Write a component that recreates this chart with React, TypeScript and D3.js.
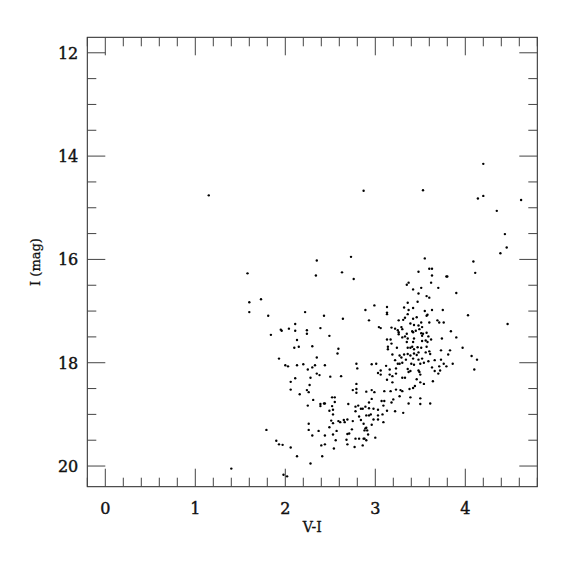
import React, { useRef, useEffect } from "react";
import * as d3 from "d3";

// [V-I, I] pairs, grouped by region of the diagram
const isolatedStars = [
  [1.15, 14.76], [2.87, 14.67], [3.53, 14.66], [1.4, 20.05], [1.98, 20.17], [2.02, 20.2],
];

const brightRedStars = [
  [4.2, 14.15], [4.2, 14.77], [4.14, 14.82], [4.62, 14.85], [4.35, 15.06], [4.44, 15.51],
  [4.46, 15.77], [4.39, 15.88], [4.09, 16.04], [4.11, 16.26], [3.8, 16.33], [3.9, 16.65],
  [3.75, 16.98], [4.03, 17.08], [4.47, 17.25], [3.76, 17.22], [3.84, 17.39], [3.9, 17.51],
  [3.74, 17.53], [3.73, 17.76], [3.83, 17.76], [3.97, 17.71], [3.81, 17.84], [4.07, 17.87],
  [4.13, 17.94], [3.76, 18.02], [3.86, 18.02], [3.79, 18.07], [4.1, 18.13],
];

const blueStars = [
  [1.58, 16.27], [1.73, 16.77], [1.6, 16.83], [1.6, 17.02], [1.81, 17.09], [1.84, 17.46],
  [1.93, 17.92], [1.79, 19.3], [1.9, 19.51], [1.93, 19.58],
];

const upperMiddle = [
  [2.35, 16.02], [2.73, 15.95], [2.34, 16.31], [2.63, 16.25], [2.76, 16.38], [2.22, 17.02],
  [2.43, 17.09], [2.89, 16.98], [2.64, 17.15], [2.93, 17.18], [2.11, 17.25], [2.04, 17.34],
  [1.95, 17.36], [1.96, 17.38], [2.11, 17.38], [2.24, 17.37], [2.24, 17.44], [2.39, 17.33],
  [2.49, 17.48], [2.13, 17.56], [2.1, 17.71], [2.15, 17.69], [2.3, 17.68], [2.59, 17.73],
  [2.58, 17.82], [2.35, 17.9],
];

const lowerMiddle = [
  [2.0, 18.05], [2.03, 18.07], [2.13, 18.05], [2.2, 18.03], [2.25, 18.13], [2.3, 18.09],
  [2.33, 18.05], [2.44, 18.05], [2.79, 18.02], [2.8, 18.11], [2.11, 18.3], [2.06, 18.37],
  [2.28, 18.29], [2.35, 18.21], [2.38, 18.24], [2.5, 18.27], [2.62, 18.26], [2.27, 18.43],
  [2.06, 18.52], [2.24, 18.53], [2.26, 18.57], [2.16, 18.61], [2.79, 18.41], [2.75, 18.53],
  [2.79, 18.51], [2.79, 18.58], [2.9, 18.56], [2.31, 18.72], [2.52, 18.67], [2.55, 18.67],
  [2.25, 18.83], [2.39, 18.8], [2.43, 18.79], [2.44, 18.79], [2.39, 18.84], [2.55, 18.76],
  [2.7, 18.8], [2.52, 18.84], [2.78, 18.85], [2.81, 18.83], [2.84, 18.89], [2.86, 18.89],
  [2.89, 18.85], [2.93, 18.88], [2.49, 18.93], [2.53, 18.91], [2.78, 18.94], [2.53, 19.0],
  [2.82, 19.04], [2.93, 19.02], [2.9, 19.02], [2.51, 19.12], [2.59, 19.13], [2.61, 19.15],
  [2.65, 19.11], [2.69, 19.1], [2.75, 19.13], [2.84, 19.11], [2.26, 19.18], [2.53, 19.17],
  [2.66, 19.15], [2.49, 19.25], [2.26, 19.3], [2.37, 19.32], [2.57, 19.32], [2.74, 19.29],
  [2.89, 19.27], [2.91, 19.31], [2.3, 19.41], [2.44, 19.41], [2.53, 19.39], [2.71, 19.37],
  [2.69, 19.38], [2.92, 19.39], [2.56, 19.5], [2.68, 19.49], [2.78, 19.47], [2.82, 19.47],
  [2.87, 19.47], [2.9, 19.5], [1.97, 19.59], [2.4, 19.6], [2.44, 19.58], [2.69, 19.58],
  [2.06, 19.64], [2.54, 19.66], [2.77, 19.63], [2.41, 19.81], [2.13, 19.81], [2.28, 19.95],
];

const redBranchUpper = [
  [3.55, 15.98], [3.6, 16.18], [3.63, 16.18], [3.48, 16.24], [3.63, 16.31], [3.79, 16.33],
  [3.62, 16.45], [3.37, 16.45], [3.35, 16.49], [3.51, 16.55], [3.7, 16.55], [3.42, 16.58],
  [3.48, 16.66], [3.57, 16.71], [3.6, 16.74], [3.47, 16.82], [3.36, 16.84], [3.32, 16.93],
  [3.42, 16.94], [2.99, 16.89], [3.13, 16.92], [3.13, 17.03], [3.13, 17.06], [3.37, 16.98],
  [3.55, 17.0], [3.63, 16.98], [3.36, 17.06], [3.58, 17.07], [3.57, 17.09], [3.46, 17.12],
  [3.33, 17.13], [3.31, 17.17], [3.42, 17.15], [3.69, 17.18], [3.26, 17.18], [3.51, 17.22],
  [3.71, 17.22], [3.39, 17.24], [3.6, 17.22], [3.43, 17.27], [3.48, 17.28], [3.04, 17.31],
  [3.06, 17.33], [3.18, 17.32], [3.22, 17.34], [3.25, 17.37], [3.29, 17.31], [3.3, 17.35],
  [3.26, 17.45], [3.26, 17.41], [3.35, 17.44], [3.41, 17.39], [3.42, 17.41], [3.45, 17.38],
  [3.49, 17.35], [3.52, 17.31], [3.51, 17.43], [3.53, 17.44], [3.57, 17.42], [3.59, 17.49],
  [3.52, 17.48], [3.33, 17.49], [3.36, 17.53], [3.3, 17.51], [3.43, 17.53], [3.13, 17.55],
  [3.17, 17.55], [3.35, 17.6], [3.42, 17.6], [3.52, 17.58], [3.56, 17.57], [3.58, 17.6],
  [3.62, 17.55], [3.14, 17.69], [3.24, 17.71], [3.36, 17.71], [3.39, 17.71], [3.41, 17.69],
  [3.47, 17.7], [3.51, 17.71], [3.57, 17.69],
];

const redBranchLower = [
  [3.18, 17.63], [3.43, 17.74], [3.14, 17.74], [3.19, 17.84], [3.27, 17.86], [3.32, 17.84],
  [3.36, 17.83], [3.39, 17.86], [3.43, 17.82], [3.46, 17.85], [3.48, 17.8], [3.56, 17.8],
  [3.6, 17.78], [3.61, 17.83], [3.73, 17.94], [3.22, 17.95], [3.29, 17.9], [3.34, 17.94],
  [3.42, 17.92], [3.48, 17.94], [3.52, 17.92], [3.59, 17.97], [3.66, 17.95], [2.96, 18.03],
  [3.01, 18.02], [3.12, 18.06], [3.25, 18.02], [3.27, 18.02], [3.3, 18.0], [3.4, 18.02],
  [3.43, 18.04], [3.5, 18.02], [3.54, 18.0], [3.63, 18.09], [3.71, 18.07], [3.06, 18.15],
  [3.16, 18.13], [3.23, 18.11], [3.36, 18.12], [3.48, 18.15], [3.66, 18.16], [3.72, 18.15],
  [3.03, 18.2], [3.06, 18.23], [3.16, 18.23], [3.19, 18.26], [3.23, 18.21], [3.3, 18.29],
  [3.33, 18.29], [3.37, 18.18], [3.39, 18.16], [3.49, 18.18], [3.5, 18.23], [3.7, 18.21],
  [3.13, 18.33], [3.19, 18.38], [3.46, 18.32], [3.5, 18.38], [3.54, 18.41], [3.64, 18.36],
  [2.96, 18.53], [2.99, 18.57], [3.1, 18.55], [3.17, 18.55], [3.23, 18.52], [3.28, 18.53],
  [3.3, 18.55], [3.38, 18.51], [3.42, 18.49], [3.44, 18.45], [3.27, 18.65], [3.39, 18.67],
  [3.5, 18.69], [2.96, 18.7], [3.2, 18.71], [3.1, 18.74], [3.07, 18.74], [3.18, 18.77],
  [2.93, 18.77], [3.37, 18.79], [3.5, 18.8], [3.61, 18.79], [2.98, 18.89], [3.03, 18.91],
  [3.09, 18.83], [3.13, 18.93], [3.22, 18.94], [3.31, 18.97], [2.95, 19.0], [3.03, 19.02],
  [3.08, 19.0], [2.98, 19.1], [3.03, 19.1], [2.87, 19.18], [2.96, 19.2], [3.09, 19.15],
  [2.9, 19.26], [2.88, 19.31], [3.0, 19.45], [2.88, 19.47], [2.86, 19.6],
];

const xMajorTicks = [0, 1, 2, 3, 4];
const yMajorTicks = [12, 14, 16, 18, 20];

const App = () => {
  const svgRef = useRef<SVGSVGElement>(null);
  const width = 575;
  const height = 575;
  const left = 87.3;
  const right = 537.3;
  const top = 37.3;
  const bottom = 486.7;

  useEffect(() => {
    const svg = d3.select(svgRef.current);
    svg.selectAll("*").remove();

    const x = d3.scaleLinear().domain([-0.2, 4.8]).range([left, right]);
    const y = d3.scaleLinear().domain([11.7, 20.4]).range([top, bottom]);

    const font = "'DejaVu Serif', serif";
    const axisColor = "#222";
    const majorLen = 18;
    const minorLen = 9;

    // frame
    svg
      .append("rect")
      .attr("x", left)
      .attr("y", top)
      .attr("width", right - left)
      .attr("height", bottom - top)
      .attr("fill", "none")
      .attr("stroke", axisColor)
      .attr("stroke-width", 1);

    const ticks = svg.append("g").attr("stroke", "#444").attr("stroke-width", 1);

    // x ticks, top and bottom, pointing inward
    const xMinor = d3.range(-0.2, 4.81, 0.2).map((v) => Math.round(v * 10) / 10);
    xMinor.forEach((v) => {
      const isMajor = xMajorTicks.includes(v);
      const len = isMajor ? majorLen : minorLen;
      const px = x(v);
      ticks.append("line").attr("x1", px).attr("x2", px).attr("y1", bottom).attr("y2", bottom - len);
      ticks.append("line").attr("x1", px).attr("x2", px).attr("y1", top).attr("y2", top + len);
    });

    // y ticks, left and right
    const yMinor = d3.range(12, 20.01, 0.5);
    yMinor.forEach((v) => {
      const isMajor = yMajorTicks.includes(v);
      const len = isMajor ? majorLen : minorLen;
      const py = y(v);
      ticks.append("line").attr("x1", left).attr("x2", left + len).attr("y1", py).attr("y2", py);
      ticks.append("line").attr("x1", right).attr("x2", right - len).attr("y1", py).attr("y2", py);
    });

    // tick labels (slight stroke to mimic the heavier original face)
    svg
      .append("g")
      .selectAll("text")
      .data(xMajorTicks)
      .join("text")
      .attr("x", (d) => x(d))
      .attr("y", bottom + 27)
      .attr("text-anchor", "middle")
      .attr("font-family", font)
      .attr("font-size", 16)
      .attr("fill", "#111")
      .attr("stroke", "#111")
      .attr("stroke-width", 0.4)
      .text((d) => d);

    svg
      .append("g")
      .selectAll("text")
      .data(yMajorTicks)
      .join("text")
      .attr("x", left - 9)
      .attr("y", (d) => y(d) + 6)
      .attr("text-anchor", "end")
      .attr("font-family", font)
      .attr("font-size", 16)
      .attr("fill", "#111")
      .attr("stroke", "#111")
      .attr("stroke-width", 0.4)
      .text((d) => d);

    // axis titles
    svg
      .append("text")
      .attr("x", (left + right) / 2)
      .attr("y", bottom + 45)
      .attr("text-anchor", "middle")
      .attr("font-family", font)
      .attr("font-size", 14)
      .attr("fill", "#111")
      .attr("stroke", "#111")
      .attr("stroke-width", 0.3)
      .text("V-I");

    svg
      .append("text")
      .attr("transform", `translate(40, ${(top + bottom) / 2}) rotate(-90)`)
      .attr("text-anchor", "middle")
      .attr("font-family", font)
      .attr("font-size", 13)
      .attr("fill", "#111")
      .attr("stroke", "#111")
      .attr("stroke-width", 0.3)
      .text("I (mag)");

    // stars
    const stars = [
      ...isolatedStars,
      ...brightRedStars,
      ...blueStars,
      ...upperMiddle,
      ...lowerMiddle,
      ...redBranchUpper,
      ...redBranchLower,
    ];

    svg
      .append("g")
      .selectAll("circle")
      .data(stars)
      .join("circle")
      .attr("cx", (d) => x(d[0]))
      .attr("cy", (d) => y(d[1]))
      .attr("r", 1.2)
      .attr("fill", "#000");
  }, []);

  return (
    <svg
      ref={svgRef}
      width={width}
      height={height}
      style={{ position: "absolute", left: 0, top: 0, background: "#fff" }}
    />
  );
};

export default App;
